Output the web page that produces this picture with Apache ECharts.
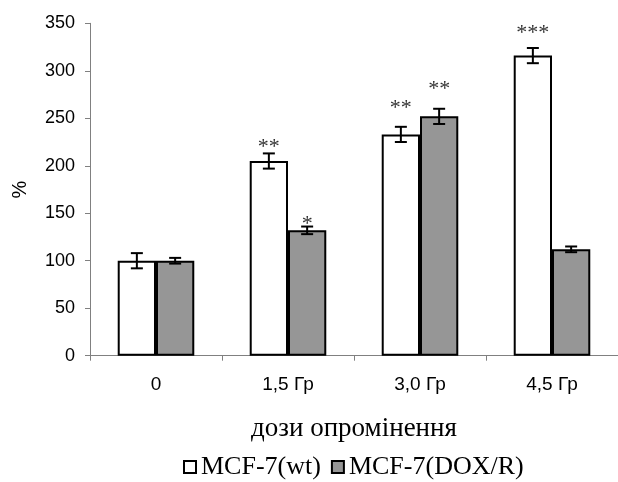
<!DOCTYPE html>
<html>
<head>
<meta charset="utf-8">
<script src="https://cdn.jsdelivr.net/npm/echarts@6/dist/echarts.min.js"></script>
<style>html,body{margin:0;padding:0;background:#fff;}#chart{width:618px;height:482px;}</style>
</head>
<body>
<div id="chart"></div>
<script>
var categories = ['0', '1,5 Гр', '3,0 Гр', '4,5 Гр'];
var seriesNames = ['MCF-7(wt)', 'MCF-7(DOX/R)'];
var wtValues = [100, 205, 233, 316];
var doxValues = [100, 132, 252, 112];
var wtErrors = [8, 8, 8, 8];
var doxErrors = [3, 4, 8, 3];
var wtStars = ['', '**', '**', '***'];
var doxStars = ['', '*', '**', ''];
var wtStarY = [0, 219, 261, 340];
var doxStarY = [0, 138, 281, 0];
var yTicks = [0, 50, 100, 150, 200, 250, 300, 350];

var SERIF = '"Liberation Serif", "Times New Roman", serif';
var SANS = '"Liberation Sans", Arial, sans-serif';

var chart = echarts.init(document.getElementById('chart'), null, {renderer: 'canvas'});

function errorSeries(values, errors, stars, starY, side) {
  var data = values.map(function (v, i) { return [i, v, errors[i]]; });
  return {
    type: 'custom',
    silent: true,
    z: 10,
    data: data,
    renderItem: function (params, api) {
      var i = api.value(0), v = api.value(1), e = api.value(2);
      var band = api.size([1, 0])[0];
      var off = side * band * 0.145;
      var top = api.coord([i, v + e]);
      var bot = api.coord([i, v - e]);
      var x = top[0] + off;
      var cap = 6;
      var style = {stroke: '#000', lineWidth: 2};
      var children = [
        {type: 'line', shape: {x1: x, y1: top[1], x2: x, y2: bot[1]}, style: style},
        {type: 'line', shape: {x1: x - cap, y1: top[1], x2: x + cap, y2: top[1]}, style: style},
        {type: 'line', shape: {x1: x - cap, y1: bot[1], x2: x + cap, y2: bot[1]}, style: style}
      ];
      var s = stars[params.dataIndex];
      if (s) {
        var sp = api.coord([i, starY[params.dataIndex]]);
        children.push({type: 'text', style: {x: x, y: sp[1], text: s, fill: '#333', font: '22px ' + SERIF, align: 'center', verticalAlign: 'middle'}});
      }
      return {type: 'group', children: children};
    }
  };
}

var option = {
  animation: false,
  backgroundColor: '#fff',
  grid: {left: 90, top: 23.3, bottom: 126.3, right: -4.3},
  legend: {
    data: seriesNames,
    top: 449,
    left: 178,
    icon: 'rect',
    itemWidth: 12,
    itemHeight: 12,
    itemGap: 10,
    textStyle: {fontFamily: SERIF, fontSize: 26, color: '#000'}
  },
  xAxis: {
    type: 'category',
    data: categories,
    name: 'дози опромінення',
    nameLocation: 'middle',
    nameGap: 60,
    nameTextStyle: {fontFamily: SERIF, fontSize: 27, color: '#000'},
    axisLine: {lineStyle: {color: '#808080', width: 1}},
    axisTick: {show: true, alignWithLabel: false, length: 5, lineStyle: {color: '#808080'}},
    axisLabel: {margin: 20, color: '#000', fontFamily: SANS, fontSize: 19}
  },
  yAxis: {
    type: 'value',
    min: 0,
    max: 350,
    interval: 50,
    name: '%',
    nameLocation: 'middle',
    nameGap: 60,
    nameRotate: 90,
    nameTextStyle: {fontFamily: SANS, fontSize: 20, color: '#000'},
    axisLine: {show: true, lineStyle: {color: '#808080', width: 1}},
    axisTick: {show: true, length: 5, lineStyle: {color: '#808080'}},
    splitLine: {show: false},
    axisLabel: {margin: 15, color: '#000', fontFamily: SANS, fontSize: 18,
      formatter: function (v) { return yTicks.indexOf(v) >= 0 ? String(v) : ''; }}
  },
  series: [
    {name: seriesNames[0], type: 'bar', data: wtValues, barGap: '0%', barCategoryGap: '42%',
      itemStyle: {color: '#ffffff', borderColor: '#000', borderWidth: 2}},
    {name: seriesNames[1], type: 'bar', data: doxValues, barGap: '0%', barCategoryGap: '42%',
      itemStyle: {color: '#969696', borderColor: '#000', borderWidth: 2}},
    errorSeries(wtValues, wtErrors, wtStars, wtStarY, -1),
    errorSeries(doxValues, doxErrors, doxStars, doxStarY, 1)
  ]
};
chart.setOption(option);
</script>
</body>
</html>
